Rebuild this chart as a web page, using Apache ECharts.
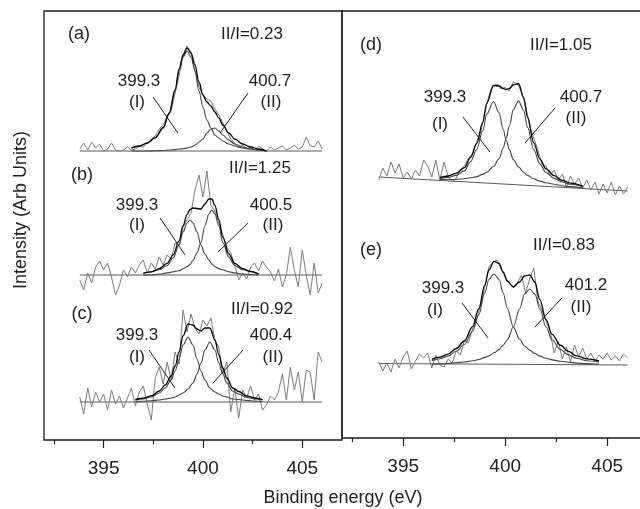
<!DOCTYPE html>
<html><head><meta charset="utf-8">
<script src="https://cdn.jsdelivr.net/npm/echarts@6/dist/echarts.min.js"></script>
<style>html,body{margin:0;padding:0;background:#fff}#c{width:640px;height:509px}</style>
</head><body><div id="c"></div>
<script>
// ---------- DATA ----------
const xMajorTicks = [395, 400, 405];
const xMinorTicks = [392.5, 397.5, 402.5];

const noiseEnergy = [393.8, 394.0, 394.2, 394.4, 394.6, 394.8, 395.0, 395.2, 395.4, 395.6, 395.8, 396.0, 396.2, 396.4, 396.6, 396.8, 397.0, 397.2, 397.4, 397.6, 397.8, 398.0, 398.2, 398.4, 398.6, 398.8, 399.0, 399.2, 399.4, 399.6, 399.8, 400.0, 400.2, 400.4, 400.6, 400.8, 401.0, 401.2, 401.4, 401.6, 401.8, 402.0, 402.2, 402.4, 402.6, 402.8, 403.0, 403.2, 403.4, 403.6, 403.8, 404.0, 404.2, 404.4, 404.6, 404.8, 405.0, 405.2, 405.4, 405.6, 405.8, 406.0];

const noiseA = [2, 8, 1, 9, 3, 7, 0, 2, 8, 1, 0, 1, 4, 1, 2, 5, 4, 8, 12, 15, 22, 26, 35, 40, 58, 75, 95, 105, 99, 80, 64, 56, 52, 50, 42, 36, 28, 20, 12, 8, 3, 6, 2, 4, 1, 5, 2, 0, 4, 1, 3, 5, 1, 3, 6, 2, 4, 14, 5, 4, 10, 2];
const noiseB = [-5, -15, 2, -8, 8, 14, 5, 12, -2, -20, -10, 5, -2, 8, 2, 10, 15, 2, 12, 6, 18, 10, 20, 16, 32, 30, 48, 55, 62, 85, 100, 78, 104, 70, 64, 52, 40, 28, 22, 10, -5, 2, -4, 8, 12, 4, 14, 8, 3, -6, 6, -12, 0, 28, 5, -12, 25, 0, -20, 12, -18, -8];
const noiseC = [5, -12, 14, -5, 10, 0, 8, -8, 12, -2, 6, -6, 4, 14, -4, 10, 16, -2, -18, 24, 35, 18, 40, 22, 50, 38, 92, 70, 88, 74, 68, 82, 76, 84, 62, 55, 28, 40, -10, 14, -16, 12, 4, 16, 2, 8, -8, -3, 6, 2, 10, 28, 2, 35, 12, 30, 0, 32, 30, 2, 50, 40];
const noiseD = [10, 22, 14, 28, 17, 26, 12, 18, 11, 20, 14, 30, 24, 13, 30, 10, 28, 14, 8, 12, 20, 24, 32, 36, 48, 58, 78, 94, 104, 106, 101, 103, 99, 108, 106, 98, 84, 64, 52, 40, 26, 24, 14, 20, 10, 16, 3, 14, 6, 12, 2, 10, 0, 8, -4, 6, -3, 8, -5, 4, -4, 3];
const noiseE = [3, -6, 2, -7, 6, -3, 8, 14, -4, 4, 11, 7, 12, -3, 10, 0, -2, 6, 2, 14, 10, 25, 22, 36, 46, 60, 78, 98, 103, 105, 96, 88, 82, 78, 82, 90, 72, 86, 97, 64, 55, 44, 34, 12, 24, 6, 18, 3, 20, 8, 17, 6, 12, 4, 10, 6, 12, 5, 9, 4, 11, 7];

const baselineEnergy = [393.8, 406.0];
const baselineA = [0, 0];
const baselineB = [0, 0];
const baselineC = [0, 0];
const baselineD = [13, -1];
const baselineE = [1.5, 0];

const fitEnergyA = [396.4, 396.8, 397.2, 397.6, 398.0, 398.3, 398.6, 398.8, 399.0, 399.2, 399.4, 399.6, 399.8, 400.0, 400.2, 400.4, 400.6, 400.8, 401.0, 401.3, 401.6, 402.0, 402.4, 402.8, 403.2];
const compIA   = [3, 5, 8, 13, 23, 37, 60, 80, 94, 100, 94, 80, 60, 44, 31, 23, 16, 13, 10, 7, 5, 3, 2, 1, 0];
const compIIA  = [0, 0, 0, 0.3, 0.5, 1, 1.4, 2, 2.3, 3, 4, 6, 9, 12, 18, 22, 23, 20, 16, 11, 7, 4, 2, 1, 0];
const envelopeA = [3, 5, 8, 13.3, 23.5, 38, 61.4, 82, 96, 103, 98, 86, 69, 56, 49, 45, 39, 33, 26, 18, 12, 7, 4, 2, 0];

const fitEnergyB = [397.0, 397.4, 397.8, 398.2, 398.5, 398.8, 399.0, 399.2, 399.35, 399.5, 399.7, 399.9, 400.1, 400.3, 400.45, 400.6, 400.8, 401.0, 401.3, 401.6, 402.0, 402.4, 402.8];
const compIB   = [1.7, 3.2, 5.3, 9.5, 17, 30, 43, 52, 55, 52, 43, 30, 21, 15, 11, 8.5, 6.4, 5.3, 3.2, 2.1, 1, 0.5, 0];
const compIIB  = [0, 0, 1, 2.1, 3.2, 4.2, 6.3, 8.4, 10.5, 14.7, 22, 32.5, 49, 61, 65, 61, 49, 32.5, 18, 9.5, 5.3, 3.2, 1];
const envelopeB = [1.7, 3.2, 6.3, 11.6, 20.2, 34.2, 49.3, 60.4, 65.5, 67, 66.5, 66, 71, 76, 76, 69.5, 55.4, 37.8, 21.2, 11.6, 6.3, 3.7, 1];

const fitEnergyC = [396.6, 397.0, 397.4, 397.8, 398.1, 398.4, 398.6, 398.8, 399.0, 399.25, 399.5, 399.7, 399.9, 400.1, 400.35, 400.6, 400.8, 401.0, 401.2, 401.5, 401.8, 402.2, 402.6, 403.0];
const compIC   = [2, 3, 5, 9, 14, 22, 31, 43, 57, 65, 57, 43, 31, 22, 14, 10, 8, 6, 5, 3, 2.5, 1.6, 1, 0.5];
const compIIC  = [0.5, 0.8, 1.2, 2, 3, 4, 5, 7, 9, 13, 19, 28, 39, 52, 60, 52, 39, 28, 19, 11, 8, 4.5, 3, 2];
const envelopeC = [2.5, 3.8, 6.2, 11, 17, 26, 36, 50, 66, 78, 77, 73, 71, 74, 74, 62, 47, 34, 24, 14, 10.5, 6.1, 4, 2.5];

const fitEnergyD = [396.8, 397.2, 397.6, 398.0, 398.3, 398.6, 398.9, 399.1, 399.42, 399.7, 399.9, 400.05, 400.2, 400.4, 400.65, 400.9, 401.1, 401.4, 401.7, 402.0, 402.4, 402.8, 403.2, 403.8];
const compID   = [11.5, 12.6, 14.6, 19.1, 28.3, 40.4, 59.1, 75.9, 88.5, 77.2, 61, 49.8, 40.6, 30.4, 23.1, 17.8, 14.6, 11.2, 8.9, 7.2, 5.8, 4.2, 3.4, 2.2];
const compIID  = [10.4, 10.5, 10.6, 11.3, 12.2, 13.4, 15.6, 17.9, 23.5, 31.2, 42, 51.8, 63.6, 80.4, 89.1, 79.8, 62.6, 40.2, 25.9, 17.5, 11.6, 8, 5.7, 3.3];
const envelopeD = [12.4, 14, 16.6, 22.3, 32.7, 46.4, 67.6, 86.9, 104.5, 104, 101.5, 100.5, 101.5, 105, 106.5, 92.8, 72.6, 47.2, 30.9, 21.2, 14.3, 9.6, 6.9, 4];

const fitEnergyE = [396.4, 396.8, 397.2, 397.6, 398.0, 398.4, 398.7, 399.0, 399.2, 399.45, 399.7, 399.9, 400.1, 400.4, 400.7, 400.95, 401.2, 401.45, 401.7, 402.0, 402.3, 402.7, 403.1, 403.5, 404.0, 404.6];
const compIE   = [4.3, 6.2, 8.9, 13.7, 20.5, 33.7, 50, 72, 85.5, 91, 85.5, 72, 57, 38, 26, 19, 15, 11.5, 8.9, 6.8, 5.1, 3.7, 2.8, 1.9, 1.4, 0.8];
const compIIE  = [0.8, 1.1, 1.5, 2.3, 3, 4.2, 5.5, 7.6, 9.1, 12.2, 15.6, 19.8, 25, 38, 56, 71, 76, 71, 56, 38, 25, 15.6, 10.3, 6.7, 4.2, 2.7];
const envelopeE = [5.6, 7.8, 10.9, 16.5, 24, 38.4, 56, 80, 95, 103.7, 101.6, 93, 84, 78, 83, 89, 90, 83, 65.4, 45.3, 30.6, 19.8, 13.6, 9.1, 6.1, 4];

// annotation pointer lines (binding energy, intensity)
const pointerIA = [[397.49, 54], [398.74, 18]];  const pointerIIA = [[402.27, 58], [400.86, 18]];
const pointerIB = [[397.84, 57], [399.10, 20]];  const pointerIIB = [[402.27, 52], [400.76, 23]];
const pointerIC = [[397.29, 52], [398.59, 14]];  const pointerIIC = [[402.02, 52], [400.51, 19]];
const pointerID = [[397.93, 73], [399.25, 38]];  const pointerIID = [[402.44, 82], [400.97, 47]];
const pointerIE = [[397.88, 62], [399.16, 27]];  const pointerIIE = [[402.78, 67], [401.46, 38]];

const panelLetters = ['(a)', '(b)', '(c)', '(d)', '(e)'];
const ratioLabels = ['II/I=0.23', 'II/I=1.25', 'II/I=0.92', 'II/I=1.05', 'II/I=0.83'];
const peakILabels = ['399.3', '399.3', '399.3', '399.3', '399.3'];
const peakIILabels = ['400.7', '400.5', '400.4', '400.7', '401.2'];
const xTitle = 'Binding energy (eV)';
const yTitle = 'Intensity (Arb Units)';

// ---------- LAYOUT ----------
const FONT = '"Liberation Sans", Arial, Helvetica, sans-serif';
const X_MIN = 392, X_MAX = 407;
const layout = [
  { grid: { left: 44, width: 298, top: 25, height: 140 }, y: [-14, 126],
    letter: [79, 34], ratio: [252, 34], l1: [139, 81], i1: [137, 102], l2: [270, 81], i2: [271, 102] },
  { grid: { left: 44, width: 298, top: 160, height: 140 }, y: [-25, 115],
    letter: [82, 175], ratio: [260, 168], l1: [137, 205], i1: [137, 225], l2: [271, 205], i2: [273, 225] },
  { grid: { left: 44, width: 298, top: 295, height: 140 }, y: [-33, 107],
    letter: [82, 314], ratio: [262, 309], l1: [137, 335], i1: [137, 357], l2: [271, 335], i2: [273, 357] },
  { grid: { left: 342, right: -8, top: 20, height: 180 }, y: [-10, 170],
    letter: [371, 45], ratio: [561, 45], l1: [445, 97], i1: [440, 124], l2: [581, 97], i2: [576, 118] },
  { grid: { left: 342, right: -8, top: 240, height: 140 }, y: [-15, 125],
    letter: [371, 250], ratio: [564, 245], l1: [443, 288], i1: [435, 310], l2: [586, 285], i2: [581, 307] }
];
const panelData = [
  { noise: noiseA, base: baselineA, fitE: fitEnergyA, c1: compIA, c2: compIIA, env: envelopeA, p1: pointerIA, p2: pointerIIA },
  { noise: noiseB, base: baselineB, fitE: fitEnergyB, c1: compIB, c2: compIIB, env: envelopeB, p1: pointerIB, p2: pointerIIB },
  { noise: noiseC, base: baselineC, fitE: fitEnergyC, c1: compIC, c2: compIIC, env: envelopeC, p1: pointerIC, p2: pointerIIC },
  { noise: noiseD, base: baselineD, fitE: fitEnergyD, c1: compID, c2: compIID, env: envelopeD, p1: pointerID, p2: pointerIID },
  { noise: noiseE, base: baselineE, fitE: fitEnergyE, c1: compIE, c2: compIIE, env: envelopeE, p1: pointerIE, p2: pointerIIE }
];

function pairs(xs, ys) { return xs.map((x, i) => [x, ys[i]]); }

const grids = [
  { left: 44, top: 11, width: 298, height: 429, show: true, borderColor: '#1a1a1a', borderWidth: 1.3, backgroundColor: 'transparent', outerBoundsMode: 'none' },
  { left: 342, top: 11, right: -8, height: 427, show: true, borderColor: '#1a1a1a', borderWidth: 1.3, backgroundColor: 'transparent', outerBoundsMode: 'none' }
];
const xAxes = [];
const yAxes = [];
function frameAxes(gi) {
  xAxes.push({
    type: 'value', gridIndex: gi, min: X_MIN, max: X_MAX, position: 'bottom',
    axisLine: { show: false }, splitLine: { show: false },
    axisTick: { show: true, customValues: xMajorTicks, length: 8, lineStyle: { color: '#222', width: 1.2 } },
    axisLabel: { show: true, customValues: xMajorTicks, margin: 19, fontSize: 19, fontFamily: FONT, color: '#222' }
  });
  xAxes.push({
    type: 'value', gridIndex: gi, min: X_MIN, max: X_MAX, position: 'bottom',
    axisLine: { show: false }, splitLine: { show: false },
    axisTick: { show: true, customValues: xMinorTicks, length: 4, lineStyle: { color: '#222', width: 1.2 } },
    axisLabel: { show: false }
  });
  yAxes.push({ type: 'value', gridIndex: gi, min: 0, max: 1, show: false });
}
frameAxes(0); frameAxes(1);

const series = [];
const graphic = [];
layout.forEach((L, p) => {
  const gi = grids.length;
  grids.push(Object.assign({ outerBoundsMode: 'none' }, L.grid));
  const xi = xAxes.length, yi = yAxes.length;
  xAxes.push({ type: 'value', gridIndex: gi, min: X_MIN, max: X_MAX, show: false });
  yAxes.push({ type: 'value', gridIndex: gi, min: L.y[0], max: L.y[1], show: false });
  const D = panelData[p];
  const common = { type: 'line', xAxisIndex: xi, yAxisIndex: yi, symbol: 'none', silent: true, animation: false };
  const fitStyle = { smooth: 0.35, smoothMonotone: 'x' };
  series.push(Object.assign({}, common, { name: 'baseline' + p, data: pairs(baselineEnergy, D.base), lineStyle: { color: '#5a5a5a', width: 1.1 }, z: 2 }));
  series.push(Object.assign({}, common, { name: 'data' + p, data: pairs(noiseEnergy, D.noise), lineStyle: { color: '#7c7c7c', width: 1 }, z: 3 }));
  series.push(Object.assign({}, common, fitStyle, { name: 'peakI' + p, data: pairs(D.fitE, D.c1), lineStyle: { color: '#444', width: 1.1 }, z: 4 }));
  series.push(Object.assign({}, common, fitStyle, { name: 'peakII' + p, data: pairs(D.fitE, D.c2), lineStyle: { color: '#444', width: 1.1 }, z: 4 }));
  series.push(Object.assign({}, common, fitStyle, { name: 'fit' + p, data: pairs(D.fitE, D.env), lineStyle: { color: '#000', width: 1.3 }, z: 5 }));
  series.push(Object.assign({}, common, { name: 'ptrI' + p, data: D.p1, lineStyle: { color: '#222', width: 1 }, z: 6 }));
  series.push(Object.assign({}, common, { name: 'ptrII' + p, data: D.p2, lineStyle: { color: '#222', width: 1 }, z: 6 }));

  const txt = (pos, text, size) => ({
    type: 'text', x: pos[0], y: pos[1], z: 10, silent: true,
    style: { text: text, font: size + 'px ' + FONT, fill: '#1e1e1e', align: 'center', verticalAlign: 'middle', textAlign: 'center', textVerticalAlign: 'middle' }
  });
  graphic.push(txt(L.letter, panelLetters[p], 18));
  graphic.push(txt(L.ratio, ratioLabels[p], 17));
  graphic.push(txt(L.l1, peakILabels[p], 17));
  graphic.push(txt(L.i1, '(I)', 17));
  graphic.push(txt(L.l2, peakIILabels[p], 17));
  graphic.push(txt(L.i2, '(II)', 17));
});

graphic.push({ type: 'text', x: 343, y: 498, silent: true,
  style: { text: xTitle, font: '18px ' + FONT, fill: '#1e1e1e', align: 'center', verticalAlign: 'middle', textAlign: 'center', textVerticalAlign: 'middle' } });
graphic.push({ type: 'text', x: 21, y: 210, rotation: Math.PI / 2, silent: true,
  style: { text: yTitle, font: '18px ' + FONT, fill: '#1e1e1e', align: 'center', verticalAlign: 'middle', textAlign: 'center', textVerticalAlign: 'middle' } });

const chart = echarts.init(document.getElementById('c'), null, { renderer: 'canvas', width: 640, height: 509 });
chart.setOption({
  animation: false,
  backgroundColor: '#fff',
  grid: grids,
  xAxis: xAxes,
  yAxis: yAxes,
  series: series,
  graphic: graphic
});
</script>
</body></html>
